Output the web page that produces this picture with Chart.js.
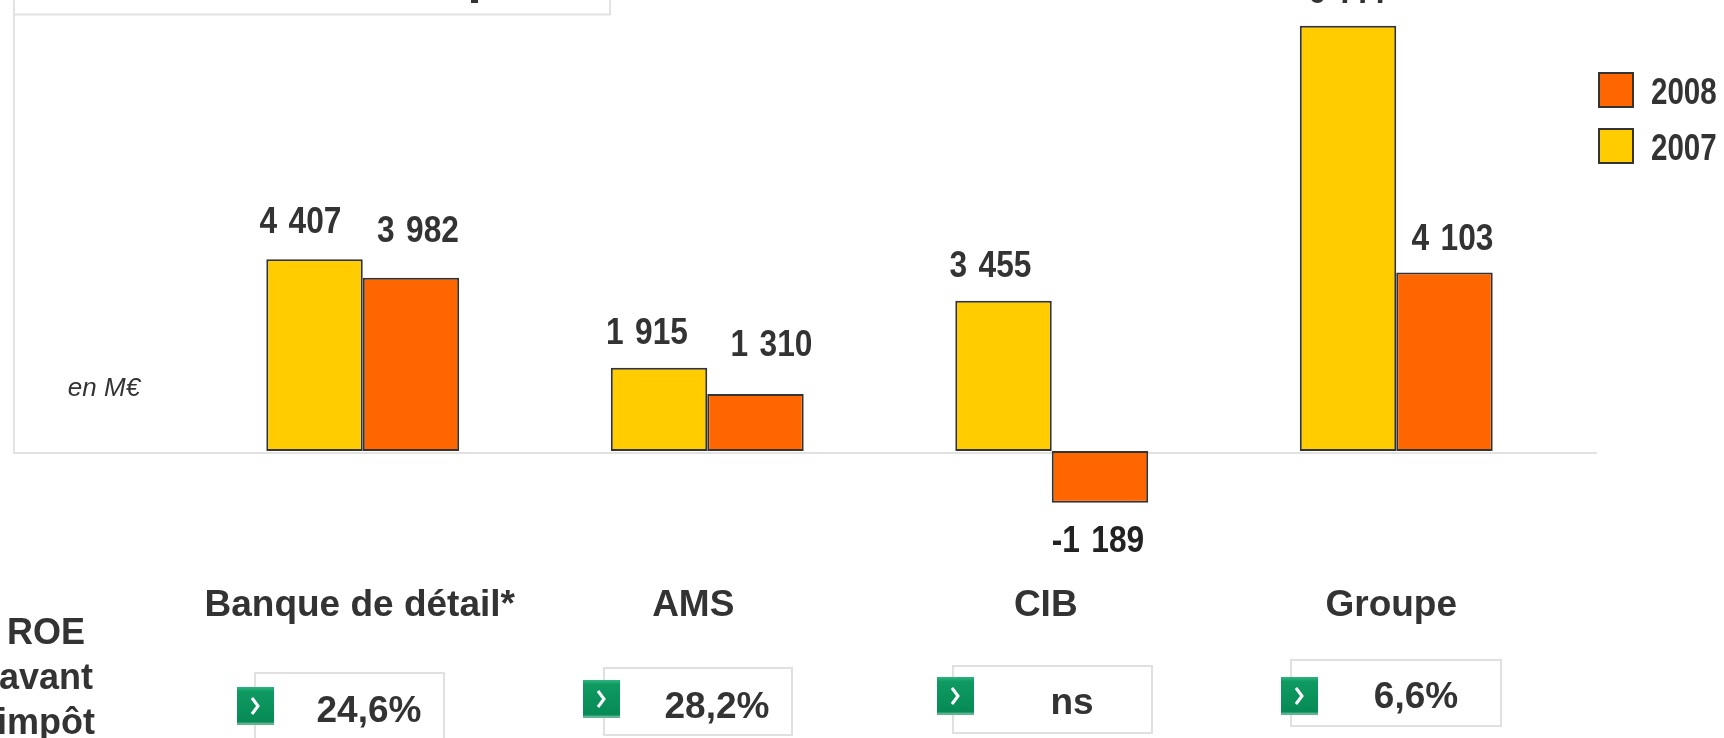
<!DOCTYPE html>
<html><head><meta charset="utf-8">
<style>html,body{margin:0;padding:0;background:#fff}#w{position:relative;width:1724px;height:738px}canvas{display:block}</style>
<script src="https://cdn.jsdelivr.net/npm/chart.js@4/dist/chart.umd.js"></script>
</head><body><div id="w"><canvas id="c" width="1724" height="738"></canvas></div>
<script>
const categories = ["Banque de détail*", "AMS", "CIB", "Groupe"];
const series2007 = [4407, 1915, 3455, 9777];
const series2008 = [3982, 1310, -1189, 4103];
const roeValues = ["24,6%", "28,2%", "ns", "6,6%"];
const roeTitle = ["ROE", "avant", "impôt"];
const unitLabel = "en M€";

const INK = "#333333";
const SANS = '"Liberation Sans",Arial,sans-serif';
const SQUEEZE = 0.82;
const LABEL_SQUEEZE = 0.88;
const labelOffsets = [
  [[-14,-36],[-12,-34],[-13,-34],[2,-33]],
  [[7,-46],[16,-48],[-2,39],[8,-32]]
];
const tickOffsets = [-3,-14,-6,-5];
const boxes = [[255,673,444,745],[604,668,792,735],[953,666,1152,733],[1291,660,1501,726]];
const icons = [[237,687],[583,680],[937,677],[1281,677]];
const roeText = [[369,712],[717,708],[1072,704],[1416,698]];

const fmt = v => String(v).replace(/\B(?=(\d{3})+$)/g," ");

const decor = {
  id:"decor",
  beforeLayout(ch){
    const lg = ch.legend;
    if(!lg._fitWrapped){
      lg._fitWrapped = true;
      const f = lg.fit.bind(lg);
      lg.fit = function(){ f(); this.width = 155.5; };
    }
  },
  beforeDraw(ch){
    const lg = ch.legend; lg.left = 1579; lg.top = 52;
    if(!lg._wrapped){
      lg._wrapped = true;
      const od = lg.draw.bind(lg);
      lg.draw = function(){
        const c = ch.ctx, ft = c.fillText;
        c.fillText = function(t,x,y){ c.save(); c.translate(x,y+4.5); c.scale(SQUEEZE,1); ft.call(c,t,0,0); c.restore(); };
        od();
        delete c.fillText;
      };
    }
    const sx = ch.scales.x, items = sx.getLabelItems();
    items.forEach((it,i)=>{ it.options.translation = [sx.getPixelForTick(i)+tickOffsets[i], it.options.translation[1]]; });
    const c = ch.ctx, y0 = ch.scales.y.getPixelForValue(0);
    c.save();
    c.strokeStyle = "#e2e2e2"; c.lineWidth = 2;
    c.beginPath(); c.moveTo(14,0); c.lineTo(14,y0+2); c.lineTo(1597,y0+2); c.stroke();
    c.beginPath(); c.moveTo(14,14.5); c.lineTo(610,14.5); c.lineTo(610,0); c.stroke();
    c.fillStyle = INK; c.fillRect(471,0,7,3);
    c.strokeStyle = "#e0e0e0";
    boxes.forEach(b=>c.strokeRect(b[0],b[1],b[2]-b[0],b[3]-b[1]));
    c.restore();
  },
  afterDraw(ch){
    const c = ch.ctx;
    c.save();
    c.textAlign = "center"; c.textBaseline = "middle";
    c.font = "bold 36px "+SANS;
    c.wordSpacing = "3px";
    [series2007,series2008].forEach((s,d)=>{
      const m = ch.getDatasetMeta(d);
      s.forEach((v,i)=>{
        const b = m.data[i], o = labelOffsets[d][i];
        c.fillStyle = v<0 ? "#222" : INK;
        c.save();
        c.translate(b.x+o[0], b.y+o[1]); c.scale(LABEL_SQUEEZE,1);
        c.fillText(fmt(v),0,0);
        c.restore();
      });
    });
    c.wordSpacing = "0px";
    icons.forEach(p=>{
      const x=p[0], y=p[1], w=37, h=38;
      const g = c.createLinearGradient(0,y,0,y+h);
      g.addColorStop(0,"#2eb57e"); g.addColorStop(.12,"#0f9a62"); g.addColorStop(.93,"#078a55"); g.addColorStop(.94,"#5fb592"); g.addColorStop(1,"#5fb592");
      c.fillStyle = g; c.fillRect(x,y,w,h);
      c.strokeStyle="#fff"; c.lineWidth=3; c.beginPath();
      c.moveTo(x+15,y+11); c.lineTo(x+21,y+19); c.lineTo(x+15,y+27); c.stroke();
    });
    c.fillStyle = INK;
    c.font = "bold 37px "+SANS;
    roeValues.forEach((t,i)=>c.fillText(t,roeText[i][0],roeText[i][1]));
    c.font = "bold 36px "+SANS;
    roeTitle.forEach((t,i)=>c.fillText(t,46,634+i*45));
    c.font = "italic 26px "+SANS;
    c.fillText(unitLabel,104,389);
    c.restore();
  }
};

new Chart(document.getElementById("c"),{
  type:"bar",
  data:{labels:categories,datasets:[
    {label:"2007",data:series2007,backgroundColor:"#ffcc00",borderColor:INK,borderWidth:2,borderSkipped:false,categoryPercentage:.56,barPercentage:1},
    {label:"2008",data:series2008,backgroundColor:"#ff6600",borderColor:INK,borderWidth:2,borderSkipped:false,categoryPercentage:.56,barPercentage:1}
  ]},
  options:{
    responsive:false,animation:false,
    layout:{padding:{left:190.5,right:0,top:0,bottom:0}},
    plugins:{
      tooltip:{enabled:false},
      legend:{position:"right",align:"start",reverse:true,
        labels:{boxWidth:34,boxHeight:34,padding:20,color:INK,font:{family:SANS,size:36,weight:"bold"}}}
    },
    scales:{
      x:{grid:{display:false},border:{display:false},
        afterFit:s=>{s.height=222;},
        ticks:{color:INK,padding:60,autoSkip:false,maxRotation:0,font:{family:SANS,size:37,weight:"bold"}}},
      y:{display:false,min:-1494,max:10366}
    }
  },
  plugins:[decor]
});
</script></body></html>
